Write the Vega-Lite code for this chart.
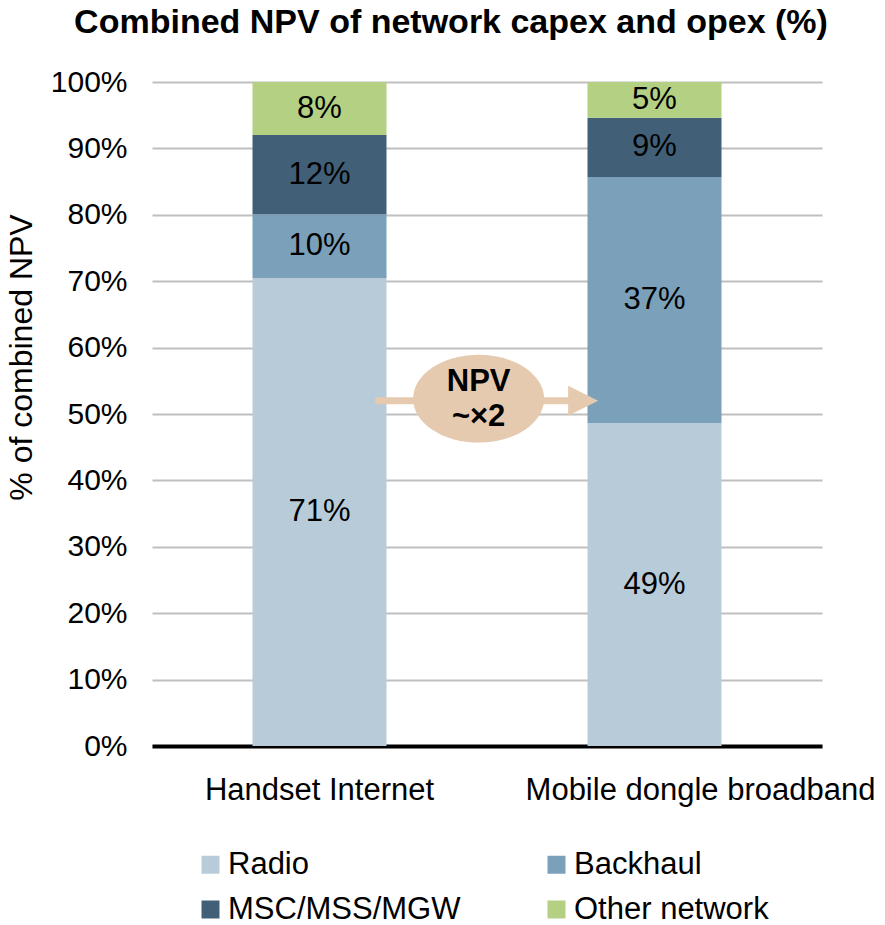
{
  "$schema": "https://vega.github.io/schema/vega-lite/v6.json",
  "width": 670,
  "height": 664,
  "autosize": {"type": "none"},
  "padding": {"left": 152, "top": 82, "right": 63, "bottom": 179},
  "background": "white",
  "config": {"font": "Liberation Sans", "view": {"stroke": null}},
  "title": {
    "text": "Combined NPV of network capex and opex (%)",
    "fontSize": 34,
    "fontWeight": "bold",
    "color": "black",
    "anchor": "middle",
    "frame": "group",
    "dx": -36,
    "offset": 27
  },
  "resolve": {"scale": {"x": "independent"}, "axis": {"y": "independent"}},
  "layer": [
    {
      "data": {
        "values": [
          {"cat": "Handset Internet", "seg": "Radio", "o": 1, "v": 70.5, "label": "71%"},
          {"cat": "Handset Internet", "seg": "Backhaul", "o": 2, "v": 9.6, "label": "10%"},
          {"cat": "Handset Internet", "seg": "MSC/MSS/MGW", "o": 3, "v": 11.9, "label": "12%"},
          {"cat": "Handset Internet", "seg": "Other network", "o": 4, "v": 8.0, "label": "8%"},
          {"cat": "Mobile dongle broadband", "seg": "Radio", "o": 1, "v": 48.6, "label": "49%"},
          {"cat": "Mobile dongle broadband", "seg": "Backhaul", "o": 2, "v": 37.1, "label": "37%"},
          {"cat": "Mobile dongle broadband", "seg": "MSC/MSS/MGW", "o": 3, "v": 8.9, "label": "9%"},
          {"cat": "Mobile dongle broadband", "seg": "Other network", "o": 4, "v": 5.4, "label": "5%"}
        ]
      },
      "transform": [
        {"stack": "v", "groupby": ["cat"], "sort": [{"field": "o", "order": "ascending"}], "as": ["y0", "y1"]},
        {"calculate": "(datum.y0 + datum.y1) / 2", "as": "mid"}
      ],
      "layer": [
        {
          "mark": {"type": "bar"},
          "encoding": {
            "x": {
              "field": "cat",
              "type": "nominal",
              "sort": null,
              "scale": {"paddingInner": 0.6, "paddingOuter": 0.3},
              "axis": {
                "title": null,
                "labelAngle": 0,
                "labelFontSize": 31,
                "labelLimit": 0,
                "labelColor": "black",
                "labelPadding": 29,
                "labelOffset": {"condition": {"test": "datum.value === 'Mobile dongle broadband'", "value": 46}, "value": 0},
                "ticks": false,
                "tickSize": 0,
                "domain": true,
                "domainColor": "black",
                "domainWidth": 4,
                "grid": false
              }
            },
            "y": {
              "field": "y0",
              "type": "quantitative",
              "scale": {"domain": [0, 100], "nice": false},
              "axis": {
                "title": "% of combined NPV",
                "titleFontSize": 32,
                "titleFontWeight": "normal",
                "titleColor": "black",
                "titleX": -121,
                "titleY": 275,
                "titleBaseline": "alphabetic",
                "values": [0, 10, 20, 30, 40, 50, 60, 70, 80, 90, 100],
                "labelExpr": "datum.value + '%'",
                "labelFontSize": 30,
                "labelColor": "black",
                "labelPadding": 25,
                "ticks": false,
                "tickSize": 0,
                "domain": false,
                "grid": true,
                "gridColor": "#BFBFBF",
                "gridWidth": 2
              }
            },
            "y2": {"field": "y1"},
            "color": {
              "field": "seg",
              "type": "nominal",
              "scale": {
                "domain": ["Radio", "Backhaul", "MSC/MSS/MGW", "Other network"],
                "range": ["#B8CBD9", "#7BA0B9", "#416078", "#B4D083"]
              },
              "legend": {
                "title": null,
                "orient": "none",
                "direction": "horizontal",
                "legendX": 43,
                "legendY": 767,
                "columns": 2,
                "symbolType": "square",
                "symbolSize": 324,
                "symbolStrokeWidth": 0,
                "labelFontSize": 31,
                "labelLimit": 0,
                "labelColor": "black",
                "labelOffset": 2,
                "columnPadding": 80,
                "rowPadding": 13
              }
            }
          }
        },
        {
          "mark": {"type": "text", "fontSize": 31, "color": "black"},
          "encoding": {
            "x": {"field": "cat", "type": "nominal", "sort": null},
            "y": {"field": "mid", "type": "quantitative"},
            "text": {"field": "label"}
          }
        }
      ]
    },
    {
      "data": {
        "values": [
          {"part": "shaft", "x": 0.666, "x2": 1.27, "y": 52.0, "t": ""},
          {"part": "head", "x": 1.287, "y": 52.0, "t": ""},
          {"part": "ellipse", "x": 0.975, "y": 52.3, "t": ""},
          {"part": "text", "x": 0.975, "y": 54.8, "t": "NPV"},
          {"part": "text", "x": 0.975, "y": 49.5, "t": "~×2"}
        ]
      },
      "layer": [
        {
          "transform": [{"filter": "datum.part === 'shaft'"}],
          "mark": {"type": "rule", "color": "#E6CAAF", "strokeWidth": 7},
          "encoding": {
            "x": {"field": "x", "type": "quantitative", "scale": {"domain": [0, 2], "nice": false, "zero": false}, "axis": null},
            "x2": {"field": "x2"},
            "y": {"field": "y", "type": "quantitative", "axis": null}
          }
        },
        {
          "transform": [{"filter": "datum.part === 'head'"}],
          "mark": {"type": "point", "shape": "M-1,-1L1,0L-1,1Z", "filled": true, "color": "#E6CAAF", "opacity": 1, "size": 900, "strokeWidth": 0},
          "encoding": {
            "x": {"field": "x", "type": "quantitative", "axis": null},
            "y": {"field": "y", "type": "quantitative", "axis": null}
          }
        },
        {
          "transform": [{"filter": "datum.part === 'ellipse'"}],
          "mark": {"type": "point", "shape": "M-1,0A1,0.67,0,1,0,1,0A1,0.67,0,1,0,-1,0Z", "filled": true, "color": "#E6CAAF", "opacity": 1, "size": 17161, "strokeWidth": 0},
          "encoding": {
            "x": {"field": "x", "type": "quantitative", "axis": null},
            "y": {"field": "y", "type": "quantitative", "axis": null}
          }
        },
        {
          "transform": [{"filter": "datum.part === 'text'"}],
          "mark": {"type": "text", "fontSize": 31, "fontWeight": "bold", "color": "black"},
          "encoding": {
            "x": {"field": "x", "type": "quantitative", "axis": null},
            "y": {"field": "y", "type": "quantitative", "axis": null},
            "text": {"field": "t"}
          }
        }
      ]
    }
  ]
}
